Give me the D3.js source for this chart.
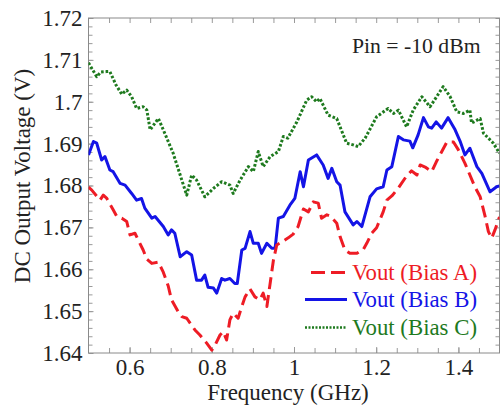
<!DOCTYPE html>
<html><head><meta charset="utf-8">
<script src="https://cdn.jsdelivr.net/npm/d3@7"></script>
<style>
html,body{margin:0;padding:0;background:#fff;}
svg{display:block;}
</style></head>
<body>
<svg id="chart" width="501" height="412"></svg>
<script>
// ---- data ----
const xTickValues = [0.6, 0.8, 1.0, 1.2, 1.4];
const xTickLabels = ["0.6", "0.8", "1", "1.2", "1.4"];
const yTickValues = [1.64, 1.65, 1.66, 1.67, 1.68, 1.69, 1.70, 1.71, 1.72];
const yTickLabels = ["1.64", "1.65", "1.66", "1.67", "1.68", "1.69", "1.7", "1.71", "1.72"];

const seriesNames = ["Vout (Bias A)", "Vout (Bias B)", "Vout (Bias C)"];
const annotation = "Pin = -10 dBm";

const freqA = [0.500,0.508,0.528,0.536,0.544,0.560,0.569,0.581,0.593,0.601,0.613,0.625,0.633,0.642,0.654,0.670,0.682,0.694,0.702,0.718,0.727,0.739,0.759,0.771,0.788,0.800,0.808,0.820,0.828,0.836,0.844,0.852,0.864,0.873,0.881,0.893,0.905,0.917,0.925,0.934,0.950,0.958,0.970,0.986,0.998,1.010,1.023,1.035,1.047,1.059,1.067,1.080,1.088,1.104,1.112,1.124,1.136,1.153,1.169,1.177,1.189,1.201,1.217,1.226,1.238,1.254,1.274,1.286,1.299,1.307,1.319,1.335,1.346,1.359,1.372,1.388,1.400,1.416,1.428,1.440,1.453,1.465,1.473,1.481,1.489,1.500];
const voltA = [1.6796,1.6789,1.6765,1.6777,1.6770,1.6742,1.6726,1.6722,1.6714,1.6682,1.6686,1.6662,1.6646,1.6624,1.6614,1.6617,1.6593,1.6560,1.6527,1.6499,1.6487,1.6483,1.6455,1.6443,1.6423,1.6407,1.6419,1.6443,1.6451,1.6431,1.6479,1.6495,1.6483,1.6511,1.6534,1.6553,1.6534,1.6527,1.6543,1.6511,1.6622,1.6658,1.6665,1.6675,1.6684,1.6702,1.6744,1.6737,1.6761,1.6758,1.6722,1.6730,1.6727,1.6710,1.6678,1.6646,1.6638,1.6638,1.6648,1.6662,1.6686,1.6699,1.6737,1.6765,1.6775,1.6794,1.6823,1.6835,1.6825,1.6849,1.6844,1.6833,1.6856,1.6880,1.6904,1.6904,1.6885,1.6853,1.6825,1.6797,1.6773,1.6726,1.6690,1.6674,1.6694,1.6725];

const freqB = [0.500,0.512,0.520,0.532,0.540,0.552,0.560,0.577,0.589,0.605,0.617,0.629,0.637,0.654,0.662,0.682,0.694,0.702,0.710,0.723,0.739,0.751,0.763,0.775,0.783,0.791,0.804,0.812,0.824,0.832,0.844,0.856,0.862,0.873,0.881,0.893,0.901,0.913,0.921,0.934,0.946,0.954,0.962,0.974,0.990,1.002,1.015,1.023,1.035,1.055,1.071,1.083,1.092,1.104,1.112,1.124,1.144,1.153,1.165,1.185,1.201,1.217,1.226,1.238,1.254,1.266,1.282,1.289,1.302,1.315,1.327,1.335,1.346,1.359,1.375,1.392,1.404,1.416,1.428,1.445,1.457,1.477,1.493,1.500];
const voltB = [1.6873,1.6905,1.6901,1.6861,1.6869,1.6837,1.6833,1.6805,1.6801,1.6781,1.6765,1.6769,1.6746,1.6722,1.6726,1.6702,1.6682,1.6694,1.6686,1.6630,1.6642,1.6634,1.6574,1.6574,1.6586,1.6557,1.6555,1.6543,1.6578,1.6574,1.6578,1.6566,1.6566,1.6646,1.6650,1.6690,1.6662,1.6662,1.6638,1.6662,1.6650,1.6650,1.6722,1.6726,1.6753,1.6769,1.6833,1.6797,1.6861,1.6873,1.6849,1.6817,1.6841,1.6809,1.6801,1.6737,1.6706,1.6714,1.6702,1.6773,1.6792,1.6797,1.6837,1.6845,1.6917,1.6909,1.6906,1.6890,1.6921,1.6962,1.6940,1.6937,1.6952,1.6937,1.6962,1.6933,1.6906,1.6873,1.6889,1.6845,1.6829,1.6785,1.6797,1.6799];

const freqC = [0.500,0.520,0.530,0.544,0.552,0.567,0.581,0.593,0.605,0.617,0.633,0.642,0.650,0.670,0.682,0.706,0.727,0.739,0.751,0.763,0.783,0.804,0.824,0.844,0.852,0.869,0.889,0.901,0.913,0.925,0.942,0.962,0.974,0.985,1.007,1.031,1.043,1.055,1.063,1.083,1.104,1.128,1.144,1.156,1.173,1.201,1.229,1.242,1.254,1.274,1.290,1.311,1.331,1.347,1.363,1.380,1.396,1.412,1.428,1.432,1.453,1.461,1.473,1.485,1.500];
const voltC = [1.7093,1.7060,1.7071,1.7072,1.7072,1.7040,1.7018,1.7028,1.7012,1.6984,1.6988,1.6980,1.6933,1.6960,1.6933,1.6877,1.6813,1.6777,1.6825,1.6813,1.6773,1.6793,1.6809,1.6801,1.6781,1.6813,1.6845,1.6833,1.6881,1.6845,1.6869,1.6881,1.6917,1.6913,1.6952,1.7004,1.7012,1.7000,1.7008,1.6968,1.6960,1.6901,1.6897,1.6893,1.6913,1.6964,1.6984,1.6972,1.6980,1.6940,1.6980,1.7012,1.6988,1.7012,1.7036,1.7012,1.6976,1.6972,1.6980,1.6949,1.6960,1.6925,1.6913,1.6901,1.6877];

// ---- layout ----
const FONT = "Liberation Serif";
const svg = d3.select("#chart");
const L = 88.5, R = 499.5, T = 18, B = 353;
const x = d3.scaleLinear().domain([0.5, 1.5]).range([L, R]);
const y = d3.scaleLinear().domain([1.64, 1.72]).range([B, T]);

const frameColor = "#8a8a8a";
const tickColor = "#9a9a9a";

const xMinor = d3.range(0.55, 1.5, 0.05).map(v => +v.toFixed(2));
const yMinor = d3.range(1.642, 1.72, 0.002).map(v => +v.toFixed(3));

function styleAxis(g) {
  g.attr("font-family", FONT).attr("font-size", 23);
  g.select(".domain").remove();
  g.selectAll(".tick line").attr("stroke", tickColor).attr("stroke-width", 1);
  g.selectAll(".tick text").attr("fill", "#222");
}

svg.append("g").attr("transform", `translate(0,${B})`)
  .call(d3.axisBottom(x).tickValues(xMinor).tickFormat("").tickSizeInner(-5).tickSizeOuter(0))
  .call(styleAxis);
svg.append("g").attr("transform", `translate(0,${B})`)
  .call(d3.axisBottom(x).tickValues(xTickValues).tickFormat((d, i) => xTickLabels[i]).tickSizeInner(-6).tickSizeOuter(0).tickPadding(6))
  .call(styleAxis);

svg.append("g").attr("transform", `translate(0,${T})`)
  .call(d3.axisTop(x).tickValues(xMinor).tickFormat("").tickSizeInner(-5).tickSizeOuter(0))
  .call(styleAxis);

svg.append("g").attr("transform", `translate(${L},0)`)
  .call(d3.axisLeft(y).tickValues(yMinor).tickFormat("").tickSizeInner(-4).tickSizeOuter(0))
  .call(styleAxis);
svg.append("g").attr("transform", `translate(${L},0)`)
  .call(d3.axisLeft(y).tickValues(yTickValues).tickFormat((d, i) => yTickLabels[i]).tickSizeInner(-5).tickSizeOuter(0).tickPadding(6))
  .call(styleAxis);

svg.append("g").attr("transform", `translate(${R},0)`)
  .call(d3.axisRight(y).tickValues(yMinor).tickFormat("").tickSizeInner(-4).tickSizeOuter(0))
  .call(styleAxis);

svg.append("rect").attr("x", L).attr("y", T).attr("width", R - L).attr("height", B - T)
  .attr("fill", "none").attr("stroke", frameColor).attr("stroke-width", 1);

svg.append("clipPath").attr("id", "clip").append("rect")
  .attr("x", L).attr("y", T - 2).attr("width", R - L).attr("height", B - T + 2);

const line = d3.line().x(d => x(d[0])).y(d => y(d[1]));

const series = [
  {f: freqA, v: voltA, color: "#ee1c25", dash: "12,6", width: 3},
  {f: freqB, v: voltB, color: "#1414e6", dash: null, width: 3},
  {f: freqC, v: voltC, color: "#1e7a1e", dash: "2.6,1.9", width: 3}
];

const plot = svg.append("g").attr("clip-path", "url(#clip)");
[2, 1, 0].forEach(i => {
  const s = series[i];
  const pts = s.f.map((f, j) => [f, s.v[j]]);
  plot.append("path").datum(pts).attr("d", line)
    .attr("fill", "none").attr("stroke", s.color).attr("stroke-width", s.width)
    .attr("stroke-dasharray", s.dash).attr("stroke-linejoin", "round");
});

const legX1 = 305, legX2 = 347, legTextX = 352;
const legY = [272.5, 299.5, 327.5];
series.forEach((s, i) => {
  svg.append("line").attr("x1", legX1).attr("x2", legX2).attr("y1", legY[i]).attr("y2", legY[i])
    .attr("stroke", s.color).attr("stroke-width", i === 2 ? 2.5 : 3).attr("stroke-dasharray", i === 0 ? "14,6" : (i === 2 ? "2,1.5" : null))
    .attr("stroke-dashoffset", i === 0 ? -6 : 0);
  svg.append("text").attr("x", legTextX).attr("y", legY[i] + 7.5)
    .attr("font-family", FONT).attr("font-size", 22.8).attr("fill", s.color).text(seriesNames[i]);
});

svg.append("text").attr("x", 352).attr("y", 53).attr("font-family", FONT).attr("font-size", 21.7)
  .attr("fill", "#222").text(annotation);

svg.append("text").attr("x", 288).attr("y", 399.5).attr("text-anchor", "middle")
  .attr("font-family", FONT).attr("font-size", 23).attr("fill", "#222").text("Frequency (GHz)");
svg.append("text").attr("transform", "translate(30,176) rotate(-90)").attr("text-anchor", "middle")
  .attr("font-family", FONT).attr("font-size", 23).attr("fill", "#222").text("DC Output Voltage (V)");
</script>
</body></html>
